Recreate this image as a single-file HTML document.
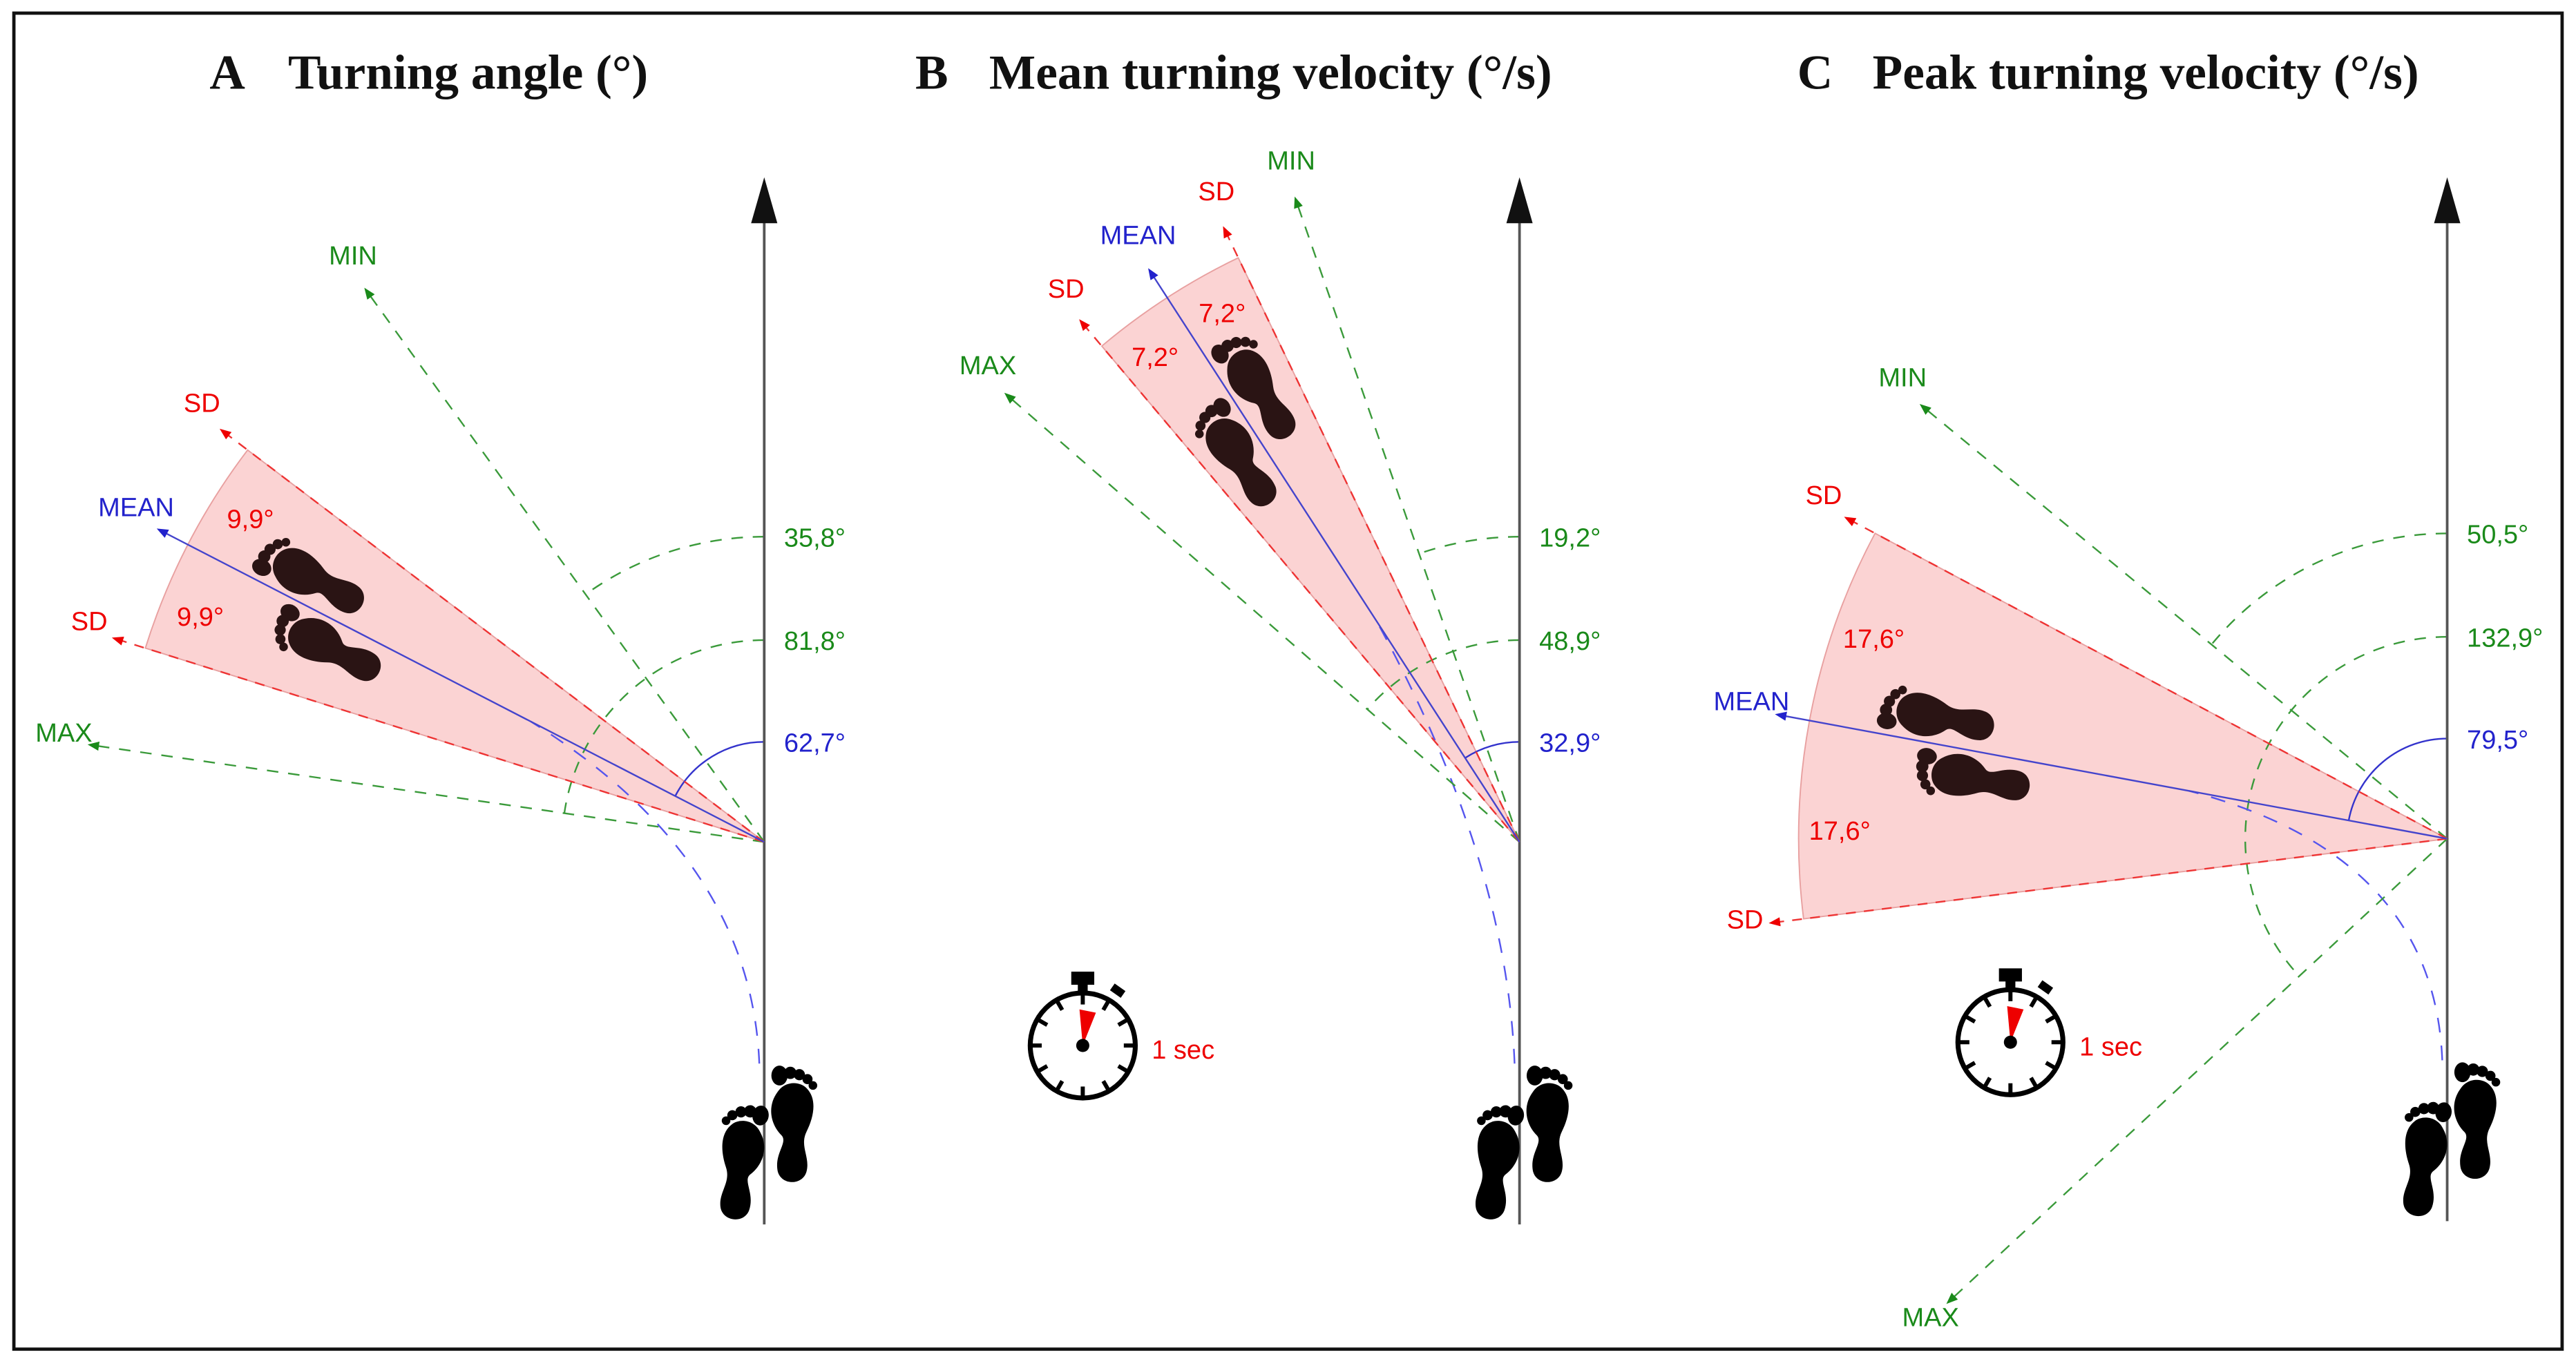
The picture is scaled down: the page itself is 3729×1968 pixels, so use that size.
<!DOCTYPE html>
<html><head><meta charset="utf-8"><style>
html,body{margin:0;padding:0;background:#fff}
svg{display:block}
text{font-family:"Liberation Sans",sans-serif}
.title{font-family:"Liberation Serif",serif;font-weight:bold;font-size:30px;fill:#111}
</style></head><body>
<svg id="fig" width="3729" height="1968" viewBox="0 0 1568 828" xmlns="http://www.w3.org/2000/svg">
<defs>
<marker id="mr" viewBox="0 0 10 10" refX="8" refY="5" markerWidth="7" markerHeight="7" orient="auto"><path d="M0,1 L10,5 L0,9 Z" fill="#e00"/></marker>
<marker id="mg" viewBox="0 0 10 10" refX="8" refY="5" markerWidth="7" markerHeight="7" orient="auto"><path d="M0,1 L10,5 L0,9 Z" fill="#1a8a1a"/></marker>
<marker id="mb" viewBox="0 0 10 10" refX="8" refY="5" markerWidth="7" markerHeight="7" orient="auto"><path d="M0,1 L10,5 L0,9 Z" fill="#22c"/></marker>
<g id="foot">
<path d="M-8,-18 C-14,-10 -12,0 -6,6 C-2,10 -10,16 -8,26 C-6,34 6,34 8,26 C10,18 4,12 8,4 C12,-4 14,-14 8,-20 C4,-24 -4,-24 -8,-18 Z"/>
<ellipse cx="-7" cy="-27" rx="4.5" ry="5.5"/><circle cx="-1" cy="-28.5" r="3.4"/><circle cx="4" cy="-27.5" r="3.1"/><circle cx="8.5" cy="-25" r="2.8"/><circle cx="11.5" cy="-21.5" r="2.4"/>
</g>
</defs>
<rect x="8" y="8" width="1552" height="814" fill="none" stroke="#111" stroke-width="2"/>
<g id="root"></g>
</svg>
<script>
// Data per panel (angles in degrees from straight ahead, leftward positive; >90 means backward)
const panelLetters = ["A","B","C"];
const panelTitles = ["Turning angle (°)","Mean turning velocity (°/s)","Peak turning velocity (°/s)"];
const meanValues = [62.7, 32.9, 79.5];
const sdValues = [9.9, 7.2, 17.6];
const minValues = [35.8, 19.2, 50.5];
const maxValues = [81.8, 48.9, 132.9];
const showTimer = [false, true, true];

const ORIGINS = [[465,513],[925,513],[1490,511]];
const LETTER_X = [138,567,1105];
const TITLE_X = [175,602,1140];
const L = 415, WR = 395;
const NS = "http://www.w3.org/2000/svg";
const root = document.getElementById('root');
function mk(tag, attrs, parent){const e=document.createElementNS(NS,tag);for(const k in attrs)e.setAttribute(k,attrs[k]);(parent||root).appendChild(e);return e;}
function pt(o,ang,r){const a=ang*Math.PI/180;return [o[0]-r*Math.sin(a), o[1]-r*Math.cos(a)];}
function fmt(v){return v.toFixed(1).replace('.',',')+'°';}

for(let i=0;i<3;i++){
  const o=ORIGINS[i], g=mk('g',{});
  
  
  const m=meanValues[i], s=sdValues[i];
  const tl=mk('text',{x:LETTER_X[i],y:54,'text-anchor':'middle',class:'title'},g);
  
  
  tl.textContent=panelLetters[i];
  const t=mk('text',{x:TITLE_X[i],y:54,class:'title'},g);
  
  
  t.textContent=panelTitles[i];
  const a1=pt(o,m+s,WR), a2=pt(o,m-s,WR);
  const w=mk('path',{d:`M${o[0]},${o[1]} L${a1[0]},${a1[1]} A${WR},${WR} 0 0 1 ${a2[0]},${a2[1]} Z`,fill:'#fbd3d3',stroke:'#e8a0a0','stroke-width':0.8},g);
  
  
  const ga=[[minValues[i],186],[maxValues[i],123]];
  ga.forEach(([ang,r])=>{
    const e=pt(o,ang,r);
    const arc=mk('path',{d:`M${o[0]},${o[1]-r} A${r},${r} 0 ${ang>180?1:0} 0 ${e[0]},${e[1]}`,fill:'none',stroke:'#3a9a3a','stroke-width':1,'stroke-dasharray':'7 6'},g);
    
    
    const lb=mk('text',{x:o[0]+12,y:o[1]-r+6,'font-size':16,fill:'#1a8a1a'},g);
    
    
    lb.textContent=fmt(ang);
  });
  const be=pt(o,m,61);
  const ba=mk('path',{d:`M${o[0]},${o[1]-61} A61,61 0 0 0 ${be[0]},${be[1]}`,fill:'none',stroke:'#33c','stroke-width':1},g);
  
  
  const bl=mk('text',{x:o[0]+12,y:o[1]-55,'font-size':16,fill:'#22c'},g);
  
  
  bl.textContent=fmt(m);
  const te=pt(o,m,160);
  const tr=mk('path',{d:`M${o[0]-3},${o[1]+135} Q${o[0]-8},${o[1]+10} ${te[0]},${te[1]}`,fill:'none',stroke:'#55e','stroke-width':1,'stroke-dasharray':'9 8'},g);
  
  
  const ax=mk('line',{x1:o[0],y1:o[1]+233,x2:o[0],y2:130,stroke:'#555','stroke-width':1.6},g);
  
  
  const ah=mk('path',{d:`M${o[0]-8},${136} L${o[0]},${108} L${o[0]+8},${136} Z`,fill:'#111'},g);
  
  
  const rays=[[minValues[i],'#3a9a3a','mg','MIN','#1a8a1a','7 6'],[maxValues[i],'#3a9a3a','mg','MAX','#1a8a1a','7 6'],
    [m+s,'#e33','mr','SD','#e00','6 5'],[m-s,'#e33','mr','SD','#e00','6 5'],[m,'#44c','mb','MEAN','#22c','']];
  rays.forEach(([ang,col,mark,lab,tc,da])=>{
    const e=pt(o,ang,L);
    const ln=mk('line',{x1:o[0],y1:o[1],x2:e[0],y2:e[1],stroke:col,'stroke-width':1,'marker-end':`url(#${mark})`},g);
    if(da)ln.setAttribute('stroke-dasharray',da);
    
    
    const lp=pt(o,ang,L+20);
    const tx=mk('text',{x:lp[0]+4,y:lp[1]+1,'font-size':16,fill:tc,'text-anchor':'middle'},g);
    
    
    tx.textContent=lab;
  });
  [m+s*0.55,m-s*0.5].forEach(ang=>{
    const p=pt(o,ang,WR-25);
    const tx=mk('text',{x:p[0],y:p[1]+6,'font-size':16,fill:'#e00','text-anchor':'middle'},g);
    
    
    tx.textContent=fmt(s);
  });
  const fc=pt(o,m,WR-90);
  const fg=mk('g',{transform:`translate(${fc[0]},${fc[1]}) rotate(${-m})`,fill:'#2a1414'},g);
  
  
  mk('use',{href:'#foot',transform:'translate(16,-14) scale(1.1)'},fg);
  mk('use',{href:'#foot',transform:'translate(-16,14) scale(-1.1,1.1)'},fg);
  const bf=mk('g',{fill:'#000'},g);
  
  
  mk('use',{href:'#foot',transform:`translate(${o[0]+17},${o[1]+172}) scale(1.1)`},bf);
  mk('use',{href:'#foot',transform:`translate(${o[0]-14},${o[1]+195}) scale(-1.1,1.1) rotate(-8)`},bf);
  if(showTimer[i]){
    const cx=o[0]-266, cy=o[1]+124;
    const sw=mk('g',{},g);
    
    
    mk('rect',{x:cx-7,y:cy-45,width:14,height:8,fill:'#000'},sw);
    mk('rect',{x:cx-3,y:cy-38,width:6,height:6,fill:'#000'},sw);
    mk('circle',{cx:cx,cy:cy,r:32,fill:'#fff',stroke:'#000','stroke-width':3},sw);
    for(let k=0;k<12;k++){const a=k*30*Math.PI/180;mk('line',{x1:cx+25*Math.sin(a),y1:cy-25*Math.cos(a),x2:cx+31*Math.sin(a),y2:cy-31*Math.cos(a),stroke:'#000','stroke-width':2.5},sw);}
    mk('path',{d:`M${cx},${cy} L${cx-2},${cy-22} L${cx+8},${cy-20} Z`,fill:'#e00'},sw);
    mk('circle',{cx:cx,cy:cy,r:4,fill:'#000'},sw);
    mk('rect',{x:cx+17,y:cy-36,width:8,height:5,fill:'#000',transform:`rotate(35 ${cx+21} ${cy-33})`},sw);
    const st=mk('text',{x:cx+42,y:cy+8,'font-size':16,fill:'#e00'},g);
    
    
    st.textContent='1 sec';
  }
}
</script>
</body></html>
